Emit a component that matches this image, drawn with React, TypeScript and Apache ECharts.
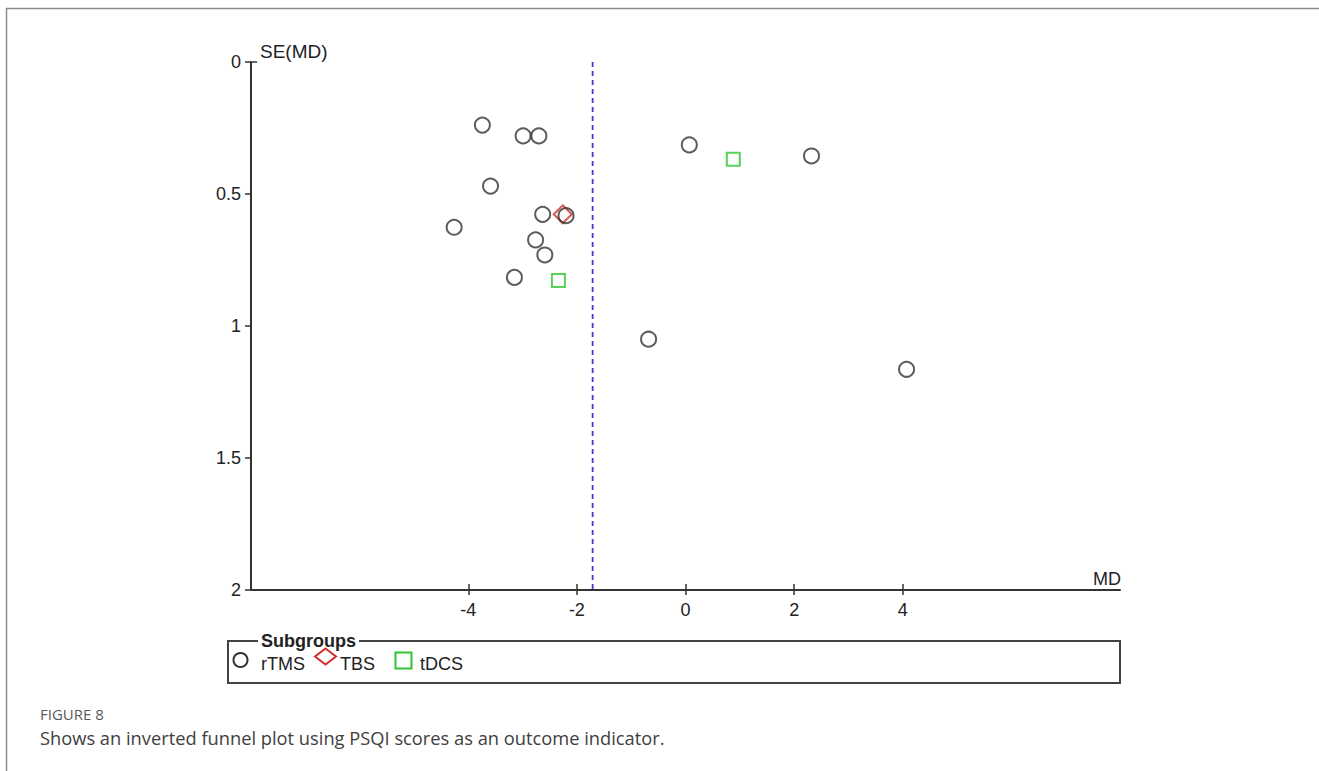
import React, { useEffect, useRef } from "react";
import * as echarts from "echarts";

// Study effects: [mean difference, standard error of MD]
const rTMS: [number, number][] = [
  [-3.74, 0.239],
  [-2.99, 0.28],
  [-2.7, 0.28],
  [-3.59, 0.47],
  [-2.63, 0.577],
  [-2.2, 0.582],
  [-4.26, 0.626],
  [-2.76, 0.674],
  [-2.59, 0.731],
  [-3.15, 0.816],
  [0.07, 0.314],
  [2.32, 0.356],
  [-0.68, 1.05],
  [4.07, 1.164],
];
const TBS: [number, number][] = [[-2.26, 0.577]];
const tDCS: [number, number][] = [
  [0.88, 0.368],
  [-2.34, 0.828],
];
const pooledMD = -1.71;
const xTicks = [-4, -2, 0, 2, 4];
const yTicks = [0, 0.5, 1, 1.5, 2];
const subgroupNames = ["rTMS", "TBS", "tDCS"];

const FONT = "'Liberation Sans', Arial, sans-serif";
const CAPTION_FONT = "'Open Sans', 'Noto Sans', sans-serif";

const COLORS = { rTMS: "#333", TBS: "#d42c2c", tDCS: "#2ec52e" };

export default function App() {
  const ref = useRef<HTMLDivElement>(null);

  useEffect(() => {
    if (!ref.current) return;
    const chart = echarts.init(ref.current, undefined, { renderer: "svg" });

    const tickLabel = { color: "#222", fontSize: 18, fontFamily: FONT };
    const plotRect = { left: 251, top: 62, width: 869, height: 528, containLabel: false };
    const tickLine = { color: "#333", width: 1.5 };
    const hollow = (c: string) => ({ color: "rgba(255,255,255,0)", borderColor: c, borderWidth: 2 });
    const legendLabel = (text: string, x: number) => ({
      type: "text",
      x,
      y: 664,
      z: 11,
      style: { text, fill: "#222", font: `18px ${FONT}`, verticalAlign: "middle" },
    });

    chart.setOption({
      animation: false,
      backgroundColor: "#fff",
      // grid 1 only carries the inner halves of the crossing ticks
      grid: [plotRect, { ...plotRect }],
      xAxis: [
        {
          type: "value",
          gridIndex: 0,
          min: -8,
          max: 8,
          interval: 2,
          position: "bottom",
          axisLine: { show: true, onZero: false, lineStyle: { color: "#333", width: 2 } },
          axisTick: { show: true, customValues: xTicks, length: 5, lineStyle: tickLine },
          axisLabel: { customValues: xTicks, margin: 11, ...tickLabel },
          splitLine: { show: false },
        },
        {
          type: "value",
          gridIndex: 1,
          min: -8,
          max: 8,
          interval: 2,
          position: "bottom",
          axisLine: { show: false, onZero: false },
          axisTick: { show: true, inside: true, customValues: xTicks, length: 6, lineStyle: tickLine },
          axisLabel: { show: false },
          splitLine: { show: false },
        },
      ],
      yAxis: [
        {
          type: "value",
          gridIndex: 0,
          inverse: true,
          min: 0,
          max: 2,
          interval: 0.5,
          position: "left",
          axisLine: { show: true, onZero: false, lineStyle: { color: "#333", width: 2 } },
          axisTick: { show: true, customValues: yTicks, length: 6, lineStyle: tickLine },
          axisLabel: { customValues: yTicks, margin: 10, ...tickLabel },
          splitLine: { show: false },
        },
        {
          type: "value",
          gridIndex: 1,
          inverse: true,
          min: 0,
          max: 2,
          interval: 0.5,
          position: "left",
          axisLine: { show: false, onZero: false },
          axisTick: { show: true, inside: true, customValues: [0], length: 6, lineStyle: tickLine },
          axisLabel: { show: false },
          splitLine: { show: false },
        },
      ],
      series: [
        {
          name: "pooled",
          type: "line",
          data: [
            [pooledMD, 0],
            [pooledMD, 2],
          ],
          symbol: "none",
          silent: true,
          lineStyle: { color: "#3a3ad6", width: 1.8, type: [5, 4] },
          z: 1,
        },
        {
          name: subgroupNames[0],
          type: "scatter",
          data: rTMS,
          symbol: "circle",
          symbolSize: 15,
          itemStyle: hollow(COLORS.rTMS),
          z: 3,
        },
        {
          name: subgroupNames[1],
          type: "scatter",
          data: TBS,
          symbol: "diamond",
          symbolSize: [18, 18],
          itemStyle: hollow(COLORS.TBS),
          z: 2,
        },
        {
          name: subgroupNames[2],
          type: "scatter",
          data: tDCS,
          symbol: "rect",
          symbolSize: 13,
          itemStyle: hollow(COLORS.tDCS),
          z: 3,
        },
      ],
      graphic: [
        // page frame
        { type: "line", shape: { x1: 6, y1: 8.5, x2: 1319, y2: 8.5 }, style: { stroke: "#8a8a8a", lineWidth: 1.5 } },
        { type: "line", shape: { x1: 6.5, y1: 8, x2: 6.5, y2: 771 }, style: { stroke: "#8a8a8a", lineWidth: 1.5 } },
        // axis names
        {
          type: "text",
          x: 260,
          y: 51,
          style: { text: "SE(MD)", fill: "#222", font: `19px ${FONT}`, verticalAlign: "middle" },
        },
        {
          type: "text",
          x: 1121,
          y: 579,
          style: { text: "MD", fill: "#222", font: `18px ${FONT}`, align: "right", verticalAlign: "middle" },
        },
        // subgroup key
        {
          type: "rect",
          shape: { x: 228, y: 641, width: 892, height: 42 },
          style: { fill: "none", stroke: "#444", lineWidth: 2 },
          z: 10,
        },
        {
          type: "text",
          x: 258,
          y: 641,
          z: 11,
          style: {
            text: "Subgroups",
            fill: "#222",
            font: `bold 18px ${FONT}`,
            verticalAlign: "middle",
            backgroundColor: "#fff",
            padding: [0, 3],
          },
        },
        {
          type: "circle",
          z: 11,
          shape: { cx: 240.5, cy: 660, r: 7 },
          style: { fill: "none", stroke: COLORS.rTMS, lineWidth: 2 },
        },
        legendLabel(subgroupNames[0], 261),
        {
          type: "polygon",
          z: 11,
          shape: {
            points: [
              [325.5, 648.5],
              [336, 656.5],
              [325.5, 664.5],
              [315, 656.5],
            ],
          },
          style: { fill: "none", stroke: COLORS.TBS, lineWidth: 2 },
        },
        legendLabel(subgroupNames[1], 340),
        {
          type: "rect",
          z: 11,
          shape: { x: 395.5, y: 652.5, width: 16, height: 16 },
          style: { fill: "none", stroke: COLORS.tDCS, lineWidth: 2 },
        },
        legendLabel(subgroupNames[2], 420),
        // caption
        {
          type: "text",
          x: 40,
          y: 714,
          style: { text: "FIGURE 8", fill: "#595959", font: `15px ${CAPTION_FONT}`, verticalAlign: "middle" },
        },
        {
          type: "text",
          x: 40,
          y: 737,
          style: {
            text: "Shows an inverted funnel plot using PSQI scores as an outcome indicator.",
            fill: "#404040",
            font: `18.3px ${CAPTION_FONT}`,
            verticalAlign: "middle",
          },
        },
      ],
    });

    return () => chart.dispose();
  }, []);

  return (
    <div
      ref={ref}
      style={{ position: "fixed", left: 0, top: 0, width: 1319, height: 771, background: "#fff" }}
    />
  );
}
